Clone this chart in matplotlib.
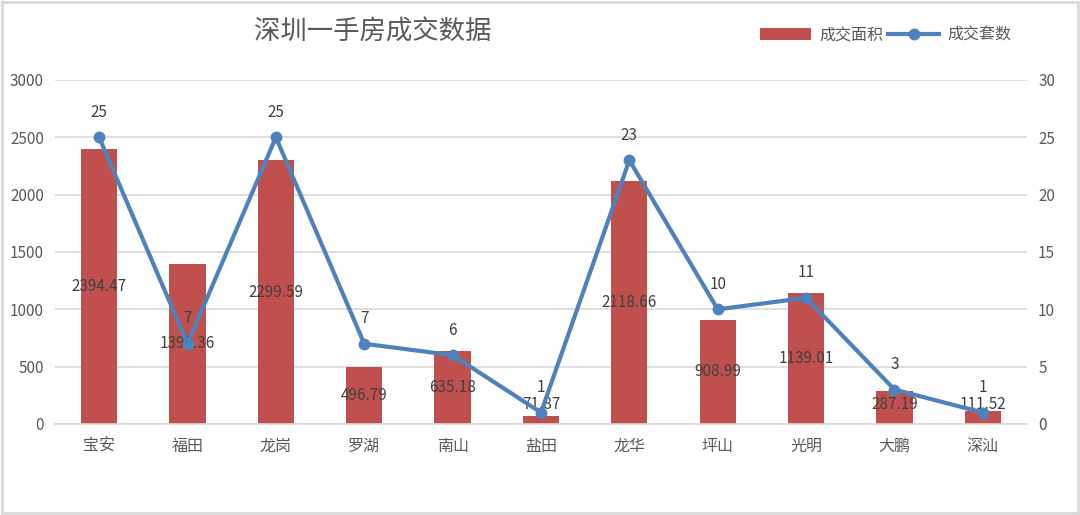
import matplotlib.pyplot as plt
import numpy as np

plt.rcParams['font.family'] = ['Noto Sans CJK SC', 'DejaVu Sans']

districts = ['宝安', '福田', '龙岗', '罗湖', '南山', '盐田', '龙华', '坪山', '光明', '大鹏', '深汕']
area = [2394.47, 1399.36, 2299.59, 496.79, 635.18, 71.87, 2118.66, 908.99, 1139.01, 287.19, 111.52]
units = [25, 7, 25, 7, 6, 1, 23, 10, 11, 3, 1]

bar_color = '#C0504D'
line_color = '#4F81BD'
text_color = '#595959'
grid_color = '#D9D9D9'

fig = plt.figure(figsize=(10.8, 5.15), dpi=100)
ax = fig.add_axes([0.0509, 0.1767, 0.9, 0.668])
ax2 = ax.twinx()

x = np.arange(len(districts))

# bars for area
ax.bar(x, area, width=0.41, color=bar_color, zorder=2, label='成交面积')
ax.set_ylim(0, 3000)
ax.set_yticks(range(0, 3001, 500))
ax.set_xlim(-0.5, len(districts) - 0.5)
ax.set_xticks(x)
ax.set_xticklabels(districts)
ax.grid(axis='y', color=grid_color, linewidth=1.2, zorder=0)
ax.set_axisbelow(True)

# area labels roughly in the middle of each bar
for i, v in enumerate(area):
    ax.text(i, max(v / 2, 174), f"{v:.2f}", ha='center', va='center',
            fontsize=11, color='#404040', zorder=5)

# line for number of units
ax2.plot(x, units, color=line_color, linewidth=3, marker='o', markersize=7.5,
         zorder=4, label='成交套数')
ax2.set_ylim(0, 30)
ax2.set_yticks(range(0, 31, 5))
for i, v in enumerate(units):
    ax2.annotate(str(v), (i, v), xytext=(0, 18), textcoords='offset points',
                 ha='center', va='center', fontsize=11, color='#404040')

for a in (ax, ax2):
    for s in a.spines.values():
        s.set_visible(False)
    a.tick_params(length=0, labelsize=11, colors=text_color)
ax.spines['bottom'].set_visible(True)
ax.spines['bottom'].set_color(grid_color)
ax.spines['bottom'].set_linewidth(1.2)
ax.tick_params(axis='x', pad=10, labelsize=11.5)
ax.tick_params(axis='y', pad=8)
ax2.tick_params(axis='y', pad=8)

fig.text(0.345, 0.937, '深圳一手房成交数据', ha='center', va='center',
         fontsize=19, color=text_color)

h1, l1 = ax.get_legend_handles_labels()
h2, l2 = ax2.get_legend_handles_labels()
fig.legend(h1 + h2, l1 + l2, loc='center', bbox_to_anchor=(0.82, 0.932), ncol=2,
           frameon=False, fontsize=11.5, labelcolor=text_color, handlelength=3.2,
           columnspacing=0.3, handletextpad=0.5)

# light frame round the whole figure
fig.patches.append(plt.Rectangle((0.002, 0.003), 0.996, 0.994, transform=fig.transFigure,
                                 fill=False, edgecolor=grid_color, linewidth=2))

fig.savefig('out.png', dpi=100)
